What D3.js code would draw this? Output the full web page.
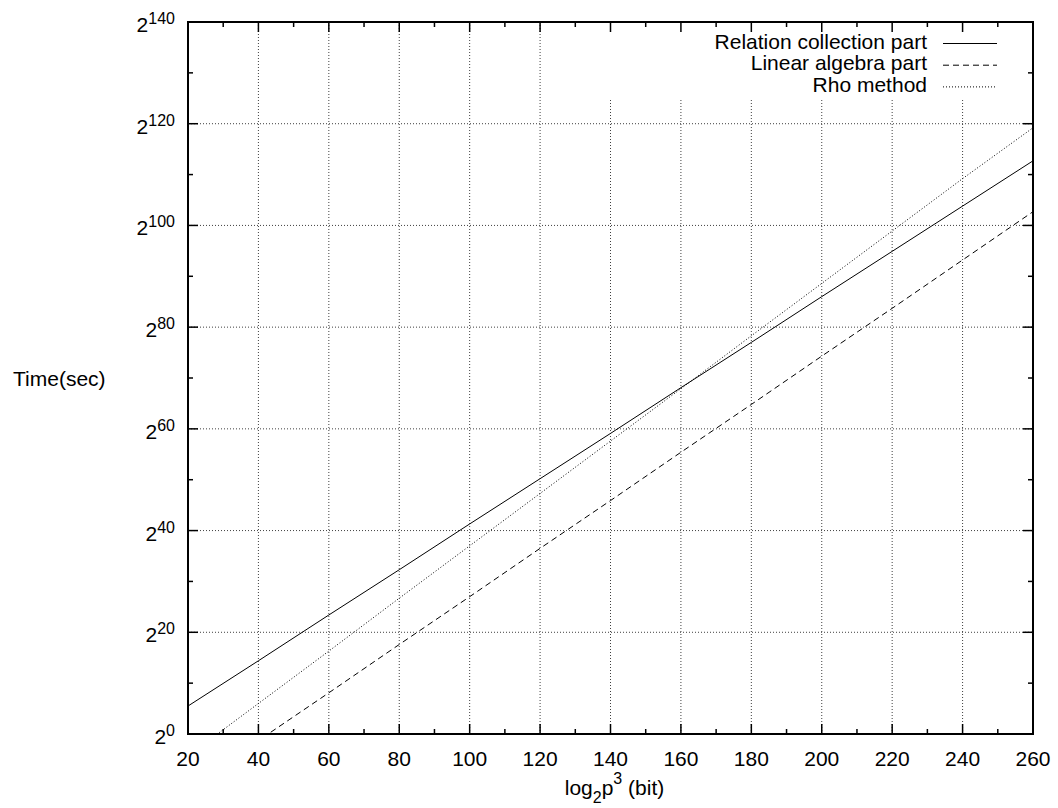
<!DOCTYPE html>
<html>
<head>
<meta charset="utf-8">
<script src="https://cdn.jsdelivr.net/npm/d3@7"></script>
<style>
  body { margin: 0; background: #fff; }
  svg { font-family: "Liberation Sans", Arial, sans-serif; }
</style>
</head>
<body>
<div id="chart"></div>
<script>
// x values: log2 p^3 (bit)
var bits = [20, 40, 60, 80, 100, 120, 140, 160, 180, 200, 220, 240, 260];
// series values: log2 of time in seconds
var relationCollection = [5.5, 14.4, 23.4, 32.3, 41.3, 50.2, 59.1, 68.1, 77.0, 86.0, 94.9, 103.8, 112.7];
var linearAlgebra = [-10.7, -1.3, 8.1, 17.6, 27.0, 36.5, 45.9, 55.4, 64.8, 74.3, 83.7, 93.2, 102.7];
var rhoMethod = [-4.3, 6.0, 16.3, 26.7, 37.0, 47.3, 57.6, 67.9, 78.3, 88.6, 98.9, 109.2, 119.2];
var seriesNames = ["Relation collection part", "Linear algebra part", "Rho method"];
var xTicks = [20, 40, 60, 80, 100, 120, 140, 160, 180, 200, 220, 240, 260];
var yTicks = [0, 20, 40, 60, 80, 100, 120, 140];

var margin = { top: 22, right: 25, bottom: 74, left: 188 };
var width = 1058 - margin.left - margin.right;
var height = 808 - margin.top - margin.bottom;

var svg = d3.select("#chart")
  .append("svg")
  .attr("width", 1058)
  .attr("height", 808);

var g = svg.append("g")
  .attr("transform", "translate(" + margin.left + "," + margin.top + ")");

var x = d3.scaleLinear().domain([20, 260]).range([0, width]);
var y = d3.scaleLinear().domain([0, 140]).range([height, 0]);

g.append("clipPath").attr("id", "plot-clip")
  .append("rect").attr("width", width).attr("height", height);

// grid
var grid = g.append("g").attr("class", "grid")
  .attr("stroke", "#000").attr("stroke-width", 1).attr("stroke-dasharray", "1,2").attr("opacity", 0.75);
xTicks.slice(1, -1).forEach(function(t) {
  grid.append("line").attr("x1", x(t)).attr("x2", x(t)).attr("y1", 0).attr("y2", height);
});
yTicks.slice(1, -1).forEach(function(t) {
  grid.append("line").attr("x1", 0).attr("x2", width).attr("y1", y(t)).attr("y2", y(t));
});

// opaque key area
var keyBox = { x: x(126), y: 2, w: width - x(126) - 2, h: 74 };
g.append("rect")
  .attr("x", keyBox.x).attr("y", keyBox.y)
  .attr("width", keyBox.w).attr("height", keyBox.h)
  .attr("fill", "#fff");

// lines
var dashes = ["none", "6,4", "1,2"];
var allSeries = [relationCollection, linearAlgebra, rhoMethod];
var line = d3.line()
  .x(function(d, i) { return x(bits[i]); })
  .y(function(d) { return y(d); });

allSeries.forEach(function(s, i) {
  g.append("path")
    .datum(s)
    .attr("clip-path", "url(#plot-clip)")
    .attr("fill", "none")
    .attr("stroke", "#000")
    .attr("stroke-width", 1)
    .attr("stroke-dasharray", dashes[i])
    .attr("d", line);
});

// ticks on all four sides
var ticks = g.append("g").attr("stroke", "#000").attr("stroke-width", 1.5);
d3.range(20, 261, 10).forEach(function(t) {
  var len = t % 20 === 0 ? 10 : 5;
  ticks.append("line").attr("x1", x(t)).attr("x2", x(t)).attr("y1", height).attr("y2", height - len);
  ticks.append("line").attr("x1", x(t)).attr("x2", x(t)).attr("y1", 0).attr("y2", len);
});
d3.range(0, 141, 10).forEach(function(t) {
  var len = t % 20 === 0 ? 10 : 5;
  ticks.append("line").attr("x1", 0).attr("x2", len).attr("y1", y(t)).attr("y2", y(t));
  ticks.append("line").attr("x1", width).attr("x2", width - len).attr("y1", y(t)).attr("y2", y(t));
});

// border
g.append("rect")
  .attr("width", width).attr("height", height)
  .attr("fill", "none").attr("stroke", "#000").attr("stroke-width", 2);

// x tick labels
g.selectAll(".xlabel")
  .data(xTicks)
  .enter()
  .append("text")
  .attr("class", "xlabel")
  .attr("x", function(d) { return x(d); })
  .attr("y", height + 32)
  .attr("text-anchor", "middle")
  .attr("font-size", 21)
  .text(function(d) { return d; });

// y tick labels as powers of two
var yl = g.selectAll(".ylabel")
  .data(yTicks)
  .enter()
  .append("text")
  .attr("class", "ylabel")
  .attr("x", -13)
  .attr("y", function(d) { return y(d) + 10; })
  .attr("text-anchor", "end")
  .attr("font-size", 21);
yl.append("tspan").text("2");
yl.append("tspan").attr("dy", -8).attr("font-size", 16).text(function(d) { return d; });

// axis titles
svg.append("text")
  .attr("x", 13).attr("y", 386)
  .attr("font-size", 21)
  .text("Time(sec)");

var xt = svg.append("text")
  .attr("x", margin.left + width / 2 + 4).attr("y", 795)
  .attr("text-anchor", "middle")
  .attr("font-size", 21);
xt.append("tspan").text("log");
xt.append("tspan").attr("dy", 8).attr("font-size", 16).text("2");
xt.append("tspan").attr("dy", -8).text("p");
xt.append("tspan").attr("dy", -11).attr("font-size", 16).text("3");
xt.append("tspan").attr("dy", 11).text(" (bit)");

// legend
var legend = g.append("g");
seriesNames.forEach(function(name, i) {
  var ly = 26.5 + i * 21.7;
  legend.append("text")
    .attr("x", 739).attr("y", ly)
    .attr("text-anchor", "end")
    .attr("font-size", 21)
    .text(name);
  legend.append("line")
    .attr("x1", 755).attr("x2", 809)
    .attr("y1", ly - 5).attr("y2", ly - 5)
    .attr("stroke", "#000").attr("stroke-width", 1)
    .attr("stroke-dasharray", dashes[i]);
});
</script>
</body>
</html>
